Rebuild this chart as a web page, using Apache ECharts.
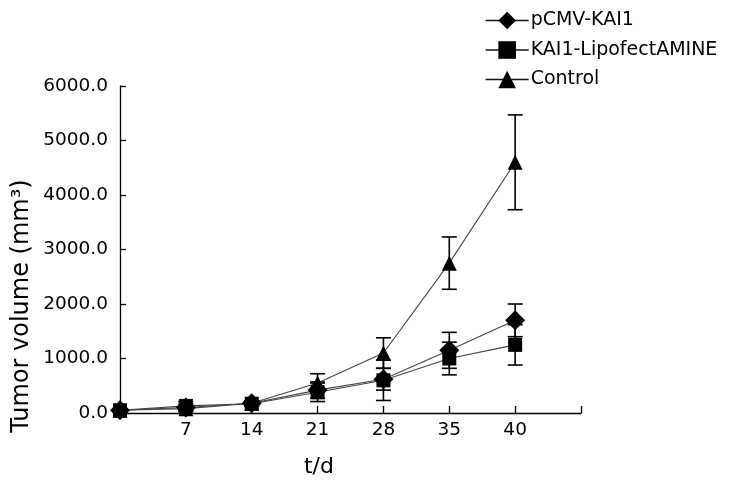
<!DOCTYPE html>
<html>
<head>
<meta charset="utf-8">
<script src="https://cdn.jsdelivr.net/npm/echarts@6/dist/echarts.min.js"></script>
<style>html,body{margin:0;padding:0;background:#fff}#c{width:731px;height:489px}</style>
</head>
<body>
<div id="c"></div>
<script>
var days = ['0', '7', '14', '21', '28', '35', '40', ''];
var yTicks = [0, 1000, 2000, 3000, 4000, 5000, 6000];
var seriesNames = ['pCMV-KAI1', 'KAI1-LipofectAMINE', 'Control'];
var pcmvMean = [50, 100, 180, 420, 620, 1150, 1700];
var pcmvErr = [20, 60, 40, 150, 200, 330, 300];
var lipoMean = [50, 130, 170, 380, 600, 1000, 1250];
var lipoErr = [20, 80, 50, 170, 370, 300, 370];
var ctrlMean = [50, 80, 180, 550, 1100, 2750, 4600];
var ctrlErr = [20, 50, 40, 170, 280, 480, 870];

var FONT = 'DejaVu Sans';
var chart = echarts.init(document.getElementById('c'), null, {renderer: 'canvas'});

function errData(mean, err) {
  return mean.map(function (m, i) { return [i, m - err[i], m + err[i]]; });
}
function errSeries(mean, err) {
  return {
    type: 'custom',
    z: 1,
    silent: true,
    renderItem: function (params, api) {
      var x = api.value(0);
      var lo = api.coord([x, api.value(1)]);
      var hi = api.coord([x, api.value(2)]);
      var hw = 7.5;
      var st = {stroke: '#000', lineWidth: 1.6};
      return {
        type: 'group',
        children: [
          {type: 'line', shape: {x1: lo[0], y1: lo[1], x2: hi[0], y2: hi[1]}, style: st},
          {type: 'line', shape: {x1: lo[0] - hw, y1: lo[1], x2: lo[0] + hw, y2: lo[1]}, style: st},
          {type: 'line', shape: {x1: hi[0] - hw, y1: hi[1], x2: hi[0] + hw, y2: hi[1]}, style: st}
        ]
      };
    },
    encode: {x: 0, y: [1, 2]},
    data: errData(mean, err)
  };
}
function lineSeries(name, data, symbol, size) {
  return {
    name: name,
    type: 'line',
    z: 3,
    data: data,
    symbol: symbol,
    symbolSize: size,
    showAllSymbol: true,
    lineStyle: {color: '#444', width: 1.1},
    itemStyle: {color: '#000', borderWidth: 0},
    emphasis: {disabled: true}
  };
}

chart.setOption({
  animation: false,
  backgroundColor: '#fff',
  textStyle: {fontFamily: FONT},
  grid: {left: 120, top: 86, right: 150, bottom: 76, containLabel: false},
  legend: {
    orient: 'vertical',
    left: 480,
    top: 6,
    itemWidth: 43,
    itemHeight: 22,
    itemGap: 10.5,
    lineStyle: {color: '#111', width: 1.3},
    textStyle: {fontFamily: FONT, fontSize: 19, color: '#000', padding: [0, 0, 0, -3]},
    data: seriesNames
  },
  xAxis: {
    type: 'category',
    data: days,
    boundaryGap: false,
    axisLine: {lineStyle: {color: '#000', width: 1.3}},
    axisTick: {inside: true, length: 7, interval: 0, lineStyle: {color: '#000', width: 1.3}},
    axisLabel: {
      interval: 0, margin: 8, fontSize: 18.5, color: '#000', fontFamily: FONT,
      formatter: function (v) { return v === '0' ? '' : v; }
    },
    splitLine: {show: false}
  },
  yAxis: {
    type: 'value',
    min: yTicks[0],
    max: yTicks[yTicks.length - 1],
    interval: 1000,
    axisLine: {show: true, lineStyle: {color: '#000', width: 1.3}},
    axisTick: {show: true, inside: true, length: 6, lineStyle: {color: '#000', width: 1.3}},
    axisLabel: {
      margin: 12, fontSize: 18.5, color: '#000', fontFamily: FONT,
      formatter: function (v) { return v.toFixed(1); }
    },
    splitLine: {show: false}
  },
  graphic: [
    {
      type: 'text',
      x: 22, y: 306,
      rotation: Math.PI / 2,
      style: {text: 'Tumor volume (mm³)', fontFamily: FONT, fontSize: 24, fill: '#000',
        align: 'center', verticalAlign: 'middle'}
    },
    {
      type: 'text',
      x: 319, y: 467,
      style: {text: 't/d', fontFamily: FONT, fontSize: 22, fill: '#000',
        align: 'center', verticalAlign: 'middle'}
    }
  ],
  series: [
    errSeries(pcmvMean, pcmvErr),
    errSeries(lipoMean, lipoErr),
    errSeries(ctrlMean, ctrlErr),
    lineSeries(seriesNames[0], pcmvMean, 'diamond', 20),
    lineSeries(seriesNames[1], lipoMean, 'rect', 14),
    lineSeries(seriesNames[2], ctrlMean, 'triangle', 15)
  ]
});
</script>
</body>
</html>
